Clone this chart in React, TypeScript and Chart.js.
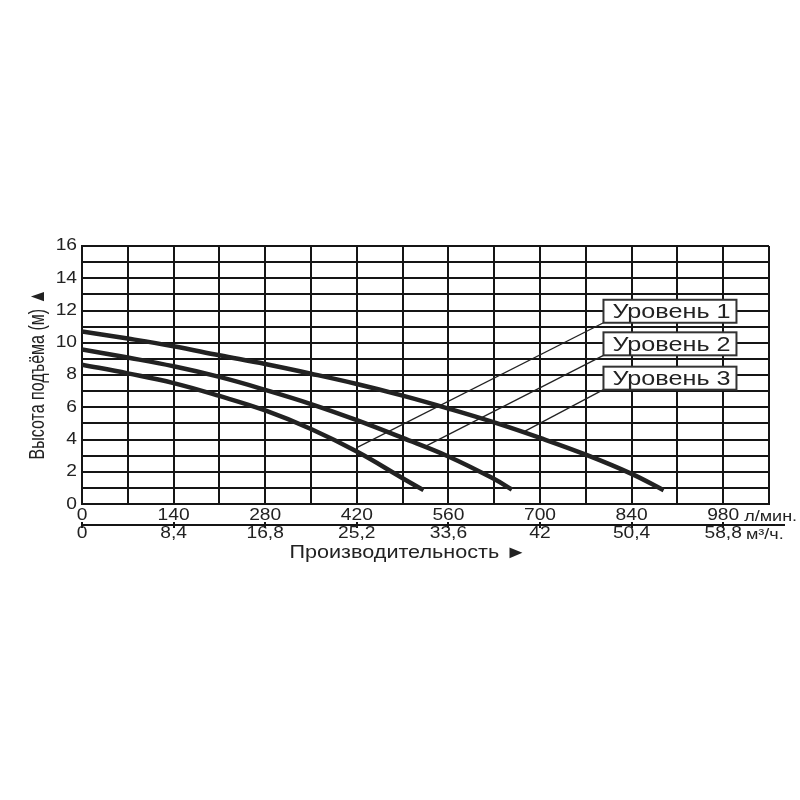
import React, { useEffect, useRef } from 'react';
import { Chart, registerables } from 'chart.js';

Chart.register(...registerables);

// Axis ticks
const flowTicks = [0, 140, 280, 420, 560, 700, 840, 980];
const m3Ticks = ['0', '8,4', '16,8', '25,2', '33,6', '42', '50,4', '58,8'];
const headTicks = [0, 2, 4, 6, 8, 10, 12, 14, 16];

// Pump curves (flow l/min, head m)
const level3Flow = [0, 70, 140, 210, 280, 350, 420, 490, 560, 630, 700, 770, 840, 889];
const level3Head = [10.7, 10.26, 9.78, 9.22, 8.68, 8.08, 7.44, 6.72, 5.92, 5.06, 4.1, 3.06, 1.87, 0.86];
const level2Flow = [0, 70, 140, 210, 280, 350, 420, 490, 560, 630, 657];
const level2Head = [9.58, 9.08, 8.54, 7.88, 7.08, 6.2, 5.2, 4.1, 2.95, 1.55, 0.9];
const level1Flow = [0, 70, 140, 210, 280, 350, 420, 490, 522];
const level1Head = [8.64, 8.1, 7.5, 6.7, 5.8, 4.65, 3.25, 1.6, 0.86];

// Labels with leader lines
const legendLabels = ['Уровень 1', 'Уровень 2', 'Уровень 3'];
const leaderFromFlow = [797, 797, 797];
const leaderFromHead = [11.24, 9.22, 7.09];
const leaderToFlow = [420, 527, 675];
const leaderToHead = [3.5, 3.62, 4.47];

const xUnit = 'л/мин.';
const x2Unit = 'м³/ч.';
const xTitle = 'Производительность ►';
const yTitle = 'Высота подъёма (м) ▲';

const FONT = '"Liberation Sans", Arial, sans-serif';
const SX = 1.2;
const TEXT = '#222';
const LINE = '#151515';

function stretchText(
  ctx: CanvasRenderingContext2D,
  text: string,
  x: number,
  y: number,
  align: CanvasTextAlign,
  size: number,
  rot = 0,
  sx = SX
) {
  ctx.save();
  ctx.translate(x, y);
  ctx.scale(sx, 1);
  if (rot) ctx.rotate(rot);
  ctx.font = `${size}px ${FONT}`;
  ctx.fillStyle = TEXT;
  ctx.textAlign = align;
  ctx.textBaseline = 'middle';
  ctx.fillText(text, 0, 0);
  ctx.restore();
}

const decorPlugin = {
  id: 'decor',
  afterDraw(chart: any) {
    const ctx: CanvasRenderingContext2D = chart.ctx;
    const xs = chart.scales.x;
    const ys = chart.scales.y;
    // label boxes
    legendLabels.forEach((lab, i) => {
      const bx = xs.getPixelForValue(leaderFromFlow[i]);
      const by = ys.getPixelForValue(leaderFromHead[i]);
      const w = 133;
      const h = 23;
      ctx.save();
      ctx.fillStyle = '#ffffff';
      ctx.fillRect(bx, by - h, w, h);
      ctx.strokeStyle = '#333';
      ctx.lineWidth = 2;
      ctx.strokeRect(bx, by - h, w, h);
      ctx.restore();
      stretchText(ctx, lab, bx + 9, by - h / 2 + 1, 'left', 21);
    });
    // y tick labels
    headTicks.forEach((v) => {
      const y = ys.getPixelForValue(v) + (v === 0 ? 1 : 0);
      stretchText(ctx, String(v), 77, y, 'right', 16);
    });
    // x tick labels row 1
    ctx.font = `16px ${FONT}`;
    flowTicks.forEach((v, i) => {
      const x = xs.getPixelForValue(v);
      stretchText(ctx, String(v), x, 516, 'center', 16);
      if (i === flowTicks.length - 1) {
        const w = ctx.measureText(String(v)).width * SX;
        stretchText(ctx, xUnit, x + w / 2 + 5, 517, 'left', 15);
      }
    });
    // secondary axis line
    const x0 = xs.getPixelForValue(0);
    ctx.save();
    ctx.strokeStyle = LINE;
    ctx.lineWidth = 2;
    ctx.beginPath();
    ctx.moveTo(x0, 525);
    ctx.lineTo(785, 525);
    ctx.stroke();
    flowTicks.forEach((v) => {
      const x = Math.round(xs.getPixelForValue(v));
      ctx.beginPath();
      ctx.moveTo(x, 522);
      ctx.lineTo(x, 528);
      ctx.stroke();
    });
    ctx.restore();
    // row 2 labels
    ctx.font = `16px ${FONT}`;
    m3Ticks.forEach((t, i) => {
      const x = xs.getPixelForValue(flowTicks[i]);
      stretchText(ctx, t, x, 534, 'center', 16);
      if (i === m3Ticks.length - 1) {
        const w = ctx.measureText(t).width * SX;
        stretchText(ctx, x2Unit, x + w / 2 + 4, 535, 'left', 15);
      }
    });
    // titles
    stretchText(ctx, xTitle, 408, 553, 'center', 18);
    stretchText(ctx, yTitle, 38, 374, 'center', 16, -Math.PI / 2, 1.4);
  },
};

function pts(xv: number[], yv: number[]) {
  return xv.map((x, i) => ({ x, y: yv[i] }));
}

export default function App() {
  const ref = useRef<HTMLCanvasElement | null>(null);
  useEffect(() => {
    if (!ref.current) return;
    const curve = (label: string, xv: number[], yv: number[]) => ({
      label,
      data: pts(xv, yv),
      borderColor: '#222',
      borderWidth: 4.5,
      pointRadius: 0,
      tension: 0.4,
      borderCapStyle: 'butt' as const,
      fill: false,
    });
    const leaders = legendLabels.map((lab, i) => ({
      label: lab + ' leader',
      data: [
        { x: leaderFromFlow[i], y: leaderFromHead[i] },
        { x: leaderToFlow[i], y: leaderToHead[i] },
      ],
      borderColor: '#222',
      borderWidth: 1.3,
      pointRadius: 0,
      tension: 0,
      fill: false,
    }));
    const chart = new Chart(ref.current, {
      type: 'line',
      data: {
        datasets: [
          curve(legendLabels[2], level3Flow, level3Head),
          curve(legendLabels[1], level2Flow, level2Head),
          curve(legendLabels[0], level1Flow, level1Head),
          ...leaders,
        ] as any,
      },
      options: {
        animation: false,
        responsive: false,
        layout: { padding: { left: 82, top: 246, right: 31, bottom: 296 } },
        plugins: { legend: { display: false }, tooltip: { enabled: false } },
        scales: {
          x: {
            type: 'linear',
            min: 0,
            max: 1050,
            ticks: { display: false, stepSize: 70, maxTicksLimit: 100 },
            grid: { color: LINE, lineWidth: 2, drawTicks: false },
            border: { color: LINE, width: 2 },
          },
          y: {
            type: 'linear',
            min: 0,
            max: 16,
            ticks: { display: false, stepSize: 1, maxTicksLimit: 100 },
            grid: { color: LINE, lineWidth: 2, drawTicks: false },
            border: { color: LINE, width: 2 },
          },
        },
      },
      plugins: [decorPlugin],
    });
    return () => chart.destroy();
  }, []);
  return (
    <div style={{ position: 'absolute', left: 0, top: 0, width: 800, height: 800, background: '#fff' }}>
      <canvas ref={ref} width={800} height={800} style={{ display: 'block' }} />
    </div>
  );
}
